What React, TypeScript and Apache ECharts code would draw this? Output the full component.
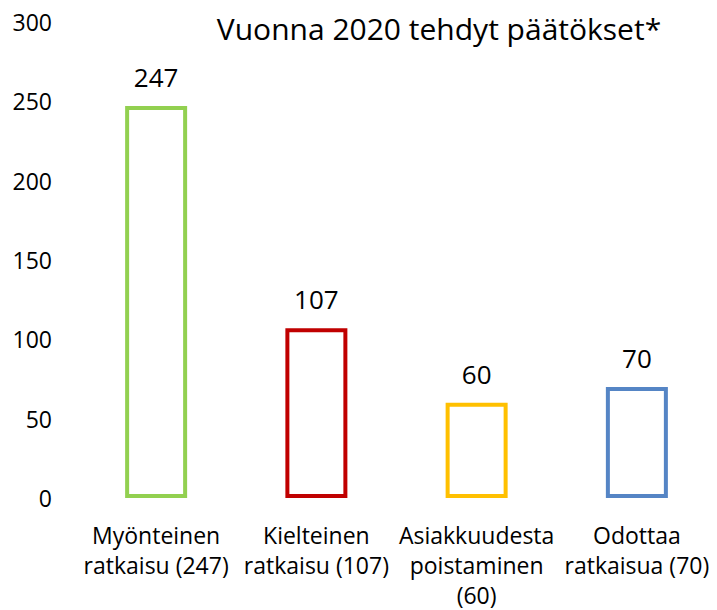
import React, { useEffect, useRef } from "react";
import * as echarts from "echarts";

const categories = [
  "Myönteinen\nratkaisu (247)",
  "Kielteinen\nratkaisu (107)",
  "Asiakkuudesta\npoistaminen\n(60)",
  "Odottaa\nratkaisua (70)",
];
const values = [247, 107, 60, 70];
const colors = ["#92D050", "#C00000", "#FFC000", "#5585C5"];
const titleText = "Vuonna 2020 tehdyt päätökset*";
const yMin = 0;
const yMax = 300;
const yInterval = 50;

export default function App() {
  const ref = useRef<HTMLDivElement>(null);
  useEffect(() => {
    if (!ref.current) return;
    const chart = echarts.init(ref.current, undefined, { renderer: "svg" });
    const font = "'Open Sans', 'Noto Sans', sans-serif";
    chart.setOption({
      animation: false,
      backgroundColor: "#ffffff",
      title: {
        text: titleText,
        left: 434,
        top: 8,
        textAlign: "center",
        textStyle: { fontFamily: font, fontSize: 30, fontWeight: "normal", color: "#000" },
      },
      grid: { left: 76, top: 22, width: 646, height: 478, containLabel: false },
      xAxis: {
        type: "category",
        data: categories,
        axisLine: { show: false },
        axisTick: { show: false },
        axisLabel: {
          interval: 0,
          margin: 22,
          fontFamily: font,
          fontSize: 23,
          lineHeight: 30,
          color: "#000",
        },
      },
      yAxis: {
        type: "value",
        min: yMin,
        max: yMax,
        interval: yInterval,
        splitLine: { show: false },
        axisLine: { show: false },
        axisTick: { show: false },
        axisLabel: { margin: 24, fontFamily: font, fontSize: 23, color: "#000" },
      },
      series: [
        {
          type: "bar",
          barWidth: 62,
          data: values.map((v, i) => ({
            value: v,
            itemStyle: { color: "#ffffff", borderColor: colors[i], borderWidth: 4 },
          })),
          label: {
            show: true,
            position: "top",
            distance: 16,
            fontFamily: font,
            fontSize: 26,
            color: "#000",
          },
        },
      ],
    });
    return () => chart.dispose();
  }, []);
  return (
    <div
      ref={ref}
      style={{ position: "fixed", left: 0, top: 0, width: 717, height: 610 }}
    />
  );
}
